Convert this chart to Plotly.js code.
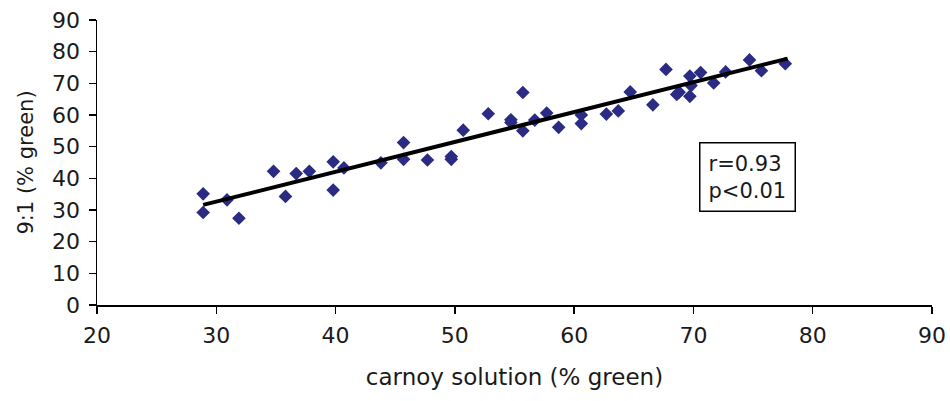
<!DOCTYPE html>
<html>
<head>
<meta charset="utf-8">
<script src="https://cdn.plot.ly/plotly-3.0.1.min.js"></script>
<style>html,body{margin:0;padding:0;background:#fff;}#chart{width:950px;height:401px;}</style>
</head>
<body>
<div id="chart"></div>
<script>
// scatter data
var carnoyX = [28.9, 28.9, 30.9, 31.9, 34.8, 35.8, 36.7, 37.8, 39.8, 39.8, 40.7, 43.8, 45.7, 45.7, 47.7,
  49.7, 49.7, 50.7, 52.8, 54.7, 54.7, 55.7, 55.7, 56.7, 57.7, 58.7, 60.6, 60.6, 62.7, 63.7,
  64.7, 66.6, 67.7, 68.6, 68.8, 69.7, 69.7, 69.8, 70.6, 71.7, 72.7, 74.7, 75.7, 77.7];
var ratioY = [35.1, 29.2, 33.2, 27.4, 42.2, 34.3, 41.5, 42.2, 45.2, 36.3, 43.3, 44.9, 51.3, 46.0, 45.8,
  46.9, 46.0, 55.2, 60.4, 58.5, 57.6, 67.1, 55.0, 58.4, 60.6, 56.1, 60.0, 57.3, 60.3, 61.3,
  67.3, 63.2, 74.4, 66.5, 67.2, 72.3, 65.9, 69.3, 73.4, 70.1, 73.6, 77.4, 74.0, 76.2];
// regression line end points
var fitX = [28.9, 77.9];
var fitY = [31.6, 77.8];
var xTicks = [20, 30, 40, 50, 60, 70, 80, 90];
var yTicks = [0, 10, 20, 30, 40, 50, 60, 70, 80, 90];
var statsText = ["r=0.93", "p&lt;0.01"];

var fontFam = "DejaVu Sans, Verdana, sans-serif";
var data = [
  {x: carnoyX, y: ratioY, type: "scatter", mode: "markers",
   marker: {symbol: "diamond", size: 10.5, color: "#2b2b84"}, hoverinfo: "x+y"},
  {x: fitX, y: fitY, type: "scatter", mode: "lines",
   line: {color: "#000", width: 4}, hoverinfo: "skip"}
];
var layout = {
  width: 950, height: 401,
  margin: {l: 97, r: 18, t: 20, b: 96},
  showlegend: false,
  paper_bgcolor: "#fff", plot_bgcolor: "#fff",
  font: {family: fontFam, size: 18, color: "#1a1a1a"},
  xaxis: {
    range: [20, 90], tickvals: xTicks, ticktext: xTicks.map(String),
    showgrid: false, zeroline: false, showline: true, linecolor: "#000", linewidth: 1.5,
    ticks: "outside", ticklen: 7, tickwidth: 1.5, tickcolor: "#000",
    ticklabelstandoff: 3,
    tickfont: {family: fontFam, size: 22, color: "#1a1a1a"},
    title: {text: "carnoy solution (% green)", font: {family: fontFam, size: 23, color: "#1a1a1a"}, standoff: 22}
  },
  yaxis: {
    range: [0, 90], tickvals: yTicks, ticktext: yTicks.map(String),
    showgrid: false, zeroline: false, showline: true, linecolor: "#000", linewidth: 1.5,
    ticks: "outside", ticklen: 7, tickwidth: 1.5, tickcolor: "#000",
    ticklabelstandoff: 4,
    tickfont: {family: fontFam, size: 22, color: "#1a1a1a"},
    title: {text: "9:1 (% green)", font: {family: fontFam, size: 21, color: "#1a1a1a"}, standoff: 12}
  },
  annotations: [{
    x: 74.5, y: 40.5, xref: "x", yref: "y", showarrow: false,
    text: statsText.join("<br>"), align: "left",
    font: {family: fontFam, size: 21, color: "#1a1a1a"},
    bordercolor: "#000", borderwidth: 1.5, borderpad: 8, bgcolor: "#fff"
  }]
};
Plotly.newPlot("chart", data, layout, {displayModeBar: false, staticPlot: true});
</script>
</body>
</html>
